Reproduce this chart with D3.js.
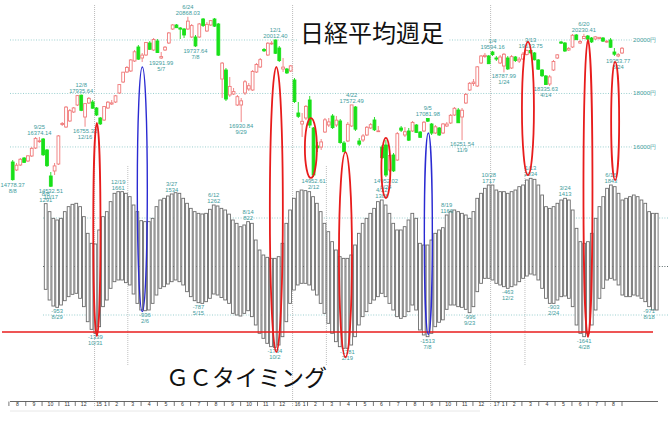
<!DOCTYPE html>
<html><head><meta charset="utf-8">
<script src="https://cdn.jsdelivr.net/npm/d3@7"></script>
<style>body{margin:0;background:#fff;}svg{display:block;}</style>
</head><body>
<svg id="c" width="669" height="421"></svg>
<script>
// ---- weekly Nikkei candles, 2014-08-08 .. 2017-09-01 (161 weeks) ----
const openP = [15437,15138,15325,15587,15475,15662,15961,16210,16297,15886,14914,15101,15362,16840,16746,16971,17307,17569,17935,17120,17644,17680,17457,17083,17008,17457,17606,17681,18018,18429,18803,18841,19215,19738,19327,19439,19888,19626,19963,19327,19626,19888,20411,20561,20449,20411,20411,20112,20112,20112,20785,20337,20561,20785,20598,18541,18878,17943,17980,17569,17569,18018,18167,18130,18803,18990,19645,19439,19858,20000,19701,18915,18915,18841,18504,17270,16858,17083,17756,16709,16036,15998,16559,16821,17158,16821,16971,16148,16223,16784,17494,16223,16260,16447,16709,17008,16578,15998,16073,15138,15699,15512,16709,16447,16597,16597,16821,16559,16597,17064,16858,16522,16709,16522,16784,16896,17195,17382,17120,17644,18130,18373,18280,19140,19383,19402,19551,19327,19140,19028,19327,18953,19364,19215,19289,19458,19608,19514,19252,18878,18654,18354,18878,19327,19925,19888,19626,19738,20187,19888,20056,20150,20075,20037,20056,20075,19925,20000,19551,19402,19514];
const highP = [15512,15400,15587,15624,15699,15998,16372,16374,16335,15923,15063,15400,16447,16933,17532,17419,17494,17943,17960,17644,17868,17760,17494,17120,17532,17719,17756,17943,18354,18803,19028,19289,19626,19813,19514,19925,19963,20075,20037,19551,19776,20299,20598,20598,20486,20449,20868,20598,20187,20636,20823,20673,20748,20823,20636,19177,18953,18616,18205,17943,17831,18504,18392,18878,19140,19327,19701,19925,19963,20012,19776,19327,18953,19065,18579,17681,17270,17569,17906,16746,16185,16297,17083,17083,17232,17158,17045,16223,16933,17572,17532,16335,16484,16784,16896,17120,16784,16073,16260,15774,15774,16559,16784,16746,16709,16971,16858,16597,16971,17082,16896,16821,16746,16896,16933,17232,17494,17457,17457,18018,18429,18541,19028,19439,19514,19439,19594,19402,19439,19514,19402,19439,19402,19364,19551,19645,19634,19551,19289,18915,18691,18691,19252,19476,19963,19925,19738,20224,20224,20000,20230,20187,20112,20150,20112,20112,20000,20075,19701,19514,19738];
const lowP = [14740,15101,15288,15400,15437,15624,15923,16150,15662,15250,14502,14951,15325,16784,16709,16933,17270,17532,17340,16755,17606,17430,17158,16821,16971,17419,17569,17644,17980,18392,18766,18803,19177,19252,19177,19402,19626,19589,19514,19292,19589,19850,20374,20449,20037,20075,20374,20075,19737,20075,20486,20299,20524,20486,19402,17831,17719,17868,17943,17532,16930,17943,18093,18093,18766,18953,19551,19402,19813,19476,19177,18803,18728,18803,17644,17083,16372,17008,16709,14876,15811,15886,16522,16746,16671,16746,16120,15811,16185,16746,16597,16036,16185,16410,16671,16597,16559,15550,14876,15063,15063,15475,16559,16372,16223,16559,16522,16335,16559,16933,16447,16484,16410,16484,16746,16858,17158,16896,16251,17606,18093,18280,18242,19102,19327,19102,19402,19215,19102,18788,18878,18915,19177,19140,19252,19421,19495,19233,18878,18616,18317,18280,18841,19289,19850,19551,19589,19701,20000,19850,20037,20000,19888,20000,20019,19925,19888,19701,19402,19354,19476];
const closeP = [14778,15318,15539,15424,15668,15948,16321,16229,15708,15300,14532,15291,16413,16880,17490,17357,17459,17920,17371,17621,17818,17450,17197,16864,17511,17674,17648,17913,18332,18797,18971,19254,19560,19285,19435,19907,19652,20020,19531,19379,19732,20264,20563,20460,20407,20187,20706,20539,19779,20600,20544,20585,20724,20519,19435,19136,17792,18264,18070,17880,17725,18438,18291,18825,19083,19265,19596,19879,19883,19504,19230,18986,18769,19033,17697,17147,16958,17518,16819,14952,15967,16188,17014,16938,16724,17002,16164,15821,16848,17572,16666,16106,16412,16736,16834,16642,16601,15599,14952,15682,15106,16497,16627,16569,16254,16919,16545,16360,16925,16965,16519,16754,16449,16860,16856,17184,17446,16905,17374,17967,18381,18426,18996,19401,19427,19114,19454,19287,19364,19467,18918,19378,19234,19283,19469,19604,19521,19262,18909,18664,18336,18620,19196,19445,19883,19590,19686,20177,20013,19943,20132,20033,19929,20118,20099,19959,19952,19729,19470,19452,19691];

// ---- oscillator range bars (top / bottom per week) ----
const oscTop = [1296,1131,993,959,993,1131,1234,1282,1303,1234,1028,684,478,464,753,1028,1131,1337,1509,1543,1543,1509,1440,1268,1131,945,925,925,993,1234,1371,1406,1454,1495,1522,1509,1406,1303,1199,1131,1096,1083,1096,1179,1268,1248,1199,1165,1080,959,890,821,856,925,890,546,340,237,189,168,168,203,478,890,1165,1406,1543,1577,1564,1543,1440,1303,1131,890,718,512,340,203,168,168,237,443,684,890,993,1096,1199,1337,1371,1268,1096,890,753,753,821,959,1096,993,478,443,443,546,684,753,800,1062,1131,1165,1131,1096,1062,993,1131,1406,1509,1612,1680,1680,1577,1543,1543,1509,1543,1577,1646,1680,1784,1818,1797,1680,1474,1234,1199,1234,1303,1371,1406,1371,1165,787,512,478,512,684,993,1234,1440,1612,1680,1646,1509,1371,1406,1440,1474,1440,1371,1303,1131,1096,1096];
const oscBottom = [-471,-691,-815,-842,-794,-705,-622,-574,-553,-656,-828,-1138,-1296,-1378,-1241,-828,-691,-450,-313,-278,-278,-333,-381,-567,-760,-897,-911,-897,-760,-588,-450,-416,-361,-313,-278,-313,-381,-519,-622,-705,-746,-760,-725,-656,-567,-588,-640,-690,-760,-966,-1000,-1021,-966,-911,-1034,-1206,-1378,-1481,-1584,-1653,-1667,-1619,-1447,-1138,-760,-485,-381,-347,-347,-381,-485,-588,-760,-966,-1172,-1378,-1550,-1653,-1687,-1687,-1619,-1447,-1206,-1034,-931,-760,-691,-622,-553,-622,-760,-897,-1034,-1069,-1034,-931,-794,-897,-1309,-1412,-1447,-1378,-1241,-1150,-1100,-883,-794,-794,-828,-842,-883,-952,-828,-519,-347,-244,-244,-278,-347,-381,-416,-450,-416,-381,-313,-244,-196,-155,-175,-278,-450,-656,-760,-760,-691,-622,-608,-656,-828,-1206,-1378,-1447,-1378,-1206,-897,-656,-450,-278,-244,-278,-381,-588,-622,-622,-588,-608,-656,-725,-828,-897,-897];
const gcThreshold = -1350;

// first weekly candle of each new year (2015, 2016, 2017)
const yearStarts = [22, 74, 126];
const priceGrid = [16000, 18000, 20000];
const priceGridLabels = ["16000円", "18000円", "20000円"];
const oscGrid = [1000, 0, -1000];

// annotations: [index, side, line1, line2]
const priceNotes = [
  [0,"low","14778.37","8/8"],[7,"high","9/25","16374.14"],[10,"low","14532.51","10/17"],
  [18,"high","12/8","17935.64"],[19,"low","16755.32","12/16"],[39,"low","19291.99","5/7"],
  [46,"high","6/24","20868.03"],[48,"low","19737.64","7/8"],[60,"low","16930.84","9/29"],
  [69,"high","12/1","20012.40"],[79,"low","14952.61","2/12"],[89,"high","4/22","17572.49"],
  [98,"low","14952.02","6/24"],[109,"high","9/5","17081.98"],[118,"low","16251.54","11/9"],
  [126,"high","1/4","19594.16"],[129,"low","18787.99","1/24"],[136,"high","3/13","19633.75"],
  [140,"low","18335.63","4/14"],[150,"high","6/20","20230.41"],[159,"low","19353.77","8/24"]
];
const oscNotes = [
  [0,"top","8/8","1291"],[3,"bottom","-953","8/29"],[13,"bottom","-1339","10/31"],
  [19,"top","12/19","1661"],[26,"bottom","-936","2/6"],[33,"top","3/27","1534"],
  [40,"bottom","-787","5/15"],[44,"top","6/12","1262"],[53,"top","8/14","822"],
  [60,"bottom","-1734","10/2"],[79,"bottom","-1781","2/19"],[88,"top","4/22","1388"],
  [100,"bottom","-1513","7/8"],[105,"top","8/19","1166"],[111,"bottom","-996","9/23"],
  [116,"top","10/28","1717"],[121,"bottom","-463","12/2"],[127,"top","1/13","2034"],
  [133,"bottom","-903","2/24"],[136,"top","3/24","1413"],[141,"bottom","-1641","4/28"],
  [148,"top","6/16","1843"],[158,"bottom","-971","8/18"]
];
// GC timing ellipses: [panel of index, index, top price, bottom value, bottom panel, colour]
const gcMarks = [
  ["osc",13.4,16900,-1430,"osc","red"],
  ["osc",25.3,18990,-930,"osc","blue"],
  ["osc",60.4,18990,-1760,"osc","red"],
  ["price",78.3,17080,14840,"price","red"],
  ["osc",78.5,15810,-1870,"osc","red"],
  ["price",98,16340,14090,"price","red"],
  ["osc",100.2,16520,-1400,"osc","blue"],
  ["price",135.3,19925,14950,"price","red"],
  ["osc",142,20000,-1450,"osc","red"],
  ["price",158.2,19180,14760,"price","red"]
];
const gcRx = [3.6,5,6.5,6,6.5,4.5,4,6,4.5,4];

// ---------------------------------------------------------------
const svg = d3.select("#c");
const N = closeP.length;
const xP = d3.scaleLinear().domain([0, N-1]).range([12.7, 622]);
const xO = d3.scaleLinear().domain([0, N-1]).range([45.7, 656.7]);
const yP = d3.scaleLinear().domain([14000, 21000]).range([200.43, 13.26]);
const yO = d3.scaleLinear().domain([-2000, 2000]).range([363.5, 169.5]);
const xT = d3.scaleTime().domain([new Date(2014,7,8), new Date(2017,8,1)]).range([12.7, 622]);

const teal = "#3e9c9c";
const noteFont = "'Liberation Sans', Arial, sans-serif";

svg.append("rect").attr("width",669).attr("height",421).attr("fill","#fff");

// price grid
const pg = svg.append("g");
pg.selectAll("line").data(priceGrid).join("line")
  .attr("x1",10).attr("x2",632).attr("y1",d=>yP(d)).attr("y2",d=>yP(d))
  .attr("stroke","#8fc9c9").attr("stroke-width",0.9).attr("stroke-dasharray","1,1.6");
pg.selectAll("text").data(priceGrid).join("text")
  .attr("x",633).attr("y",d=>yP(d)+2).text((d,i)=>priceGridLabels[i])
  .attr("font-family",noteFont).attr("font-size",6.2).attr("fill",teal);

// year separators
svg.append("g").selectAll("line").data(yearStarts).join("line")
  .attr("x1",d=>xP(d-0.5)).attr("x2",d=>xP(d-0.5)).attr("y1",5).attr("y2",406)
  .attr("stroke","#a8a8a8").attr("stroke-width",0.8).attr("stroke-dasharray","1,1");
svg.append("g").selectAll("line").data(yearStarts).join("line")
  .attr("x1",d=>xO(d-0.5)).attr("x2",d=>xO(d-0.5)).attr("y1",166).attr("y2",366)
  .attr("stroke","#b0b0b0").attr("stroke-width",0.8).attr("stroke-dasharray","1,1");

// oscillator grid
svg.append("g").selectAll("line").data(oscGrid).join("line")
  .attr("x1",43).attr("x2",669).attr("y1",d=>yO(d)).attr("y2",d=>yO(d))
  .attr("stroke",d=>d===0?"#4a5a5a":"#8fc9c9").attr("stroke-width",0.9)
  .attr("stroke-dasharray","1,1.6");

// oscillator bars
svg.append("g").selectAll("rect").data(d3.range(N)).join("rect")
  .attr("x",j=>xO(j)-1.4).attr("width",2.8)
  .attr("y",j=>yO(oscTop[j])).attr("height",j=>yO(oscBottom[j])-yO(oscTop[j]))
  .attr("fill","#fff").attr("stroke","#6c6c6c").attr("stroke-width",0.9);

// GC threshold line
svg.append("line").attr("x1",2).attr("x2",653)
  .attr("y1",yO(gcThreshold)).attr("y2",yO(gcThreshold))
  .attr("stroke","#e81c1c").attr("stroke-width",1.6);

// title (white box masks grid)
svg.append("rect").attr("x",298).attr("y",22).attr("width",150).attr("height",24).attr("fill","#fff");
svg.append("text").attr("x",300).attr("y",42).text("日経平均週足")
  .attr("font-family","'Noto Sans CJK JP', sans-serif").attr("font-size",24).attr("fill","#111");

// candles
const up = i => closeP[i] >= openP[i];
const cg = svg.append("g");
cg.selectAll("line").data(d3.range(N)).join("line")
  .attr("x1",i=>xP(i)).attr("x2",i=>xP(i)).attr("y1",i=>yP(highP[i])).attr("y2",i=>yP(lowP[i]))
  .attr("stroke",i=>up(i)?"#f07a7a":"#19d919").attr("stroke-width",0.9);
cg.selectAll("rect").data(d3.range(N)).join("rect")
  .attr("x",i=>xP(i)-1.4).attr("width",2.8)
  .attr("y",i=>yP(Math.max(openP[i],closeP[i])))
  .attr("height",i=>Math.max(0.8, yP(Math.min(openP[i],closeP[i]))-yP(Math.max(openP[i],closeP[i]))))
  .attr("fill",i=>up(i)?"#fff":"#19e019").attr("stroke",i=>up(i)?"#f07a7a":"#19e019").attr("stroke-width",0.9);

// notes
function drawNotes(list, xs, yTopOf, yBotOf, topKey) {
  const g = svg.append("g").attr("font-family",noteFont).attr("font-size",5.8)
    .attr("fill",teal).attr("text-anchor","middle");
  list.forEach(([i,side,a,b])=>{
    const x = xs(i);
    if (side===topKey) {
      const y = yTopOf(i);
      g.append("text").attr("x",x).attr("y",y-8).text(a);
      g.append("text").attr("x",x).attr("y",y-2).text(b);
    } else {
      const y = yBotOf(i);
      g.append("text").attr("x",x).attr("y",y+6).text(a);
      g.append("text").attr("x",x).attr("y",y+12).text(b);
    }
  });
}
drawNotes(priceNotes, xP, i=>yP(highP[i]), i=>yP(lowP[i]), "high");
drawNotes(oscNotes, xO, j=>yO(oscTop[j]), j=>yO(oscBottom[j]), "top");

// GC ellipses
svg.append("g").selectAll("ellipse").data(gcMarks).join("ellipse")
  .attr("cx",d=>d[0]==="osc"?xO(d[1]):xP(d[1]))
  .attr("cy",d=>{const t=yP(d[2]); const b=d[4]==="osc"?yO(d[3]):yP(d[3]); return (t+b)/2;})
  .attr("ry",d=>{const t=yP(d[2]); const b=d[4]==="osc"?yO(d[3]):yP(d[3]); return (b-t)/2;})
  .attr("rx",(d,i)=>gcRx[i])
  .attr("fill","none").attr("stroke",d=>d[5]==="red"?"#e81c1c":"#2a2ad2")
  .attr("stroke-width",d=>d[5]==="red"?1.8:1.4);

// GC caption
svg.append("text").attr("x",166).attr("y",386).text("ＧＣタイミング")
  .attr("font-family","'Noto Sans CJK JP', sans-serif").attr("font-size",23).attr("fill","#111");

// time axis
const ax = svg.append("g");
ax.append("line").attr("x1",10).attr("x2",658).attr("y1",401.5).attr("y2",401.5).attr("stroke","#555").attr("stroke-width",0.9);
ax.append("line").attr("x1",10).attr("x2",480).attr("y1",411).attr("y2",411).attr("stroke","#e2e2e2").attr("stroke-width",0.8);
const months = d3.timeMonth.range(new Date(2014,7,1), new Date(2017,8,1));
ax.selectAll("line.t").data(months.concat([new Date(2017,8,1)]).filter(d=>d.getMonth()!==0)).join("line")
  .attr("class","t").attr("x1",d=>xT(d)).attr("x2",d=>xT(d)).attr("y1",401.5).attr("y2",406)
  .attr("stroke","#555").attr("stroke-width",0.8);
const mt = ax.append("g").attr("font-family",noteFont).attr("font-size",5.2).attr("fill","#333").attr("text-anchor","middle");
months.forEach(d=>{
  const c = (xT(d)+xT(d3.timeMonth.offset(d,1)))/2;
  if (d.getMonth()===0) {
    mt.append("text").attr("x",xT(d)+4).attr("y",405.5).attr("text-anchor","start").text(String(d.getFullYear()).slice(2));
    mt.append("text").attr("x",c+5).attr("y",405.5).text("1");
  } else {
    mt.append("text").attr("x",c).attr("y",405.5).text(d.getMonth()+1);
  }
});
</script>
</body></html>
